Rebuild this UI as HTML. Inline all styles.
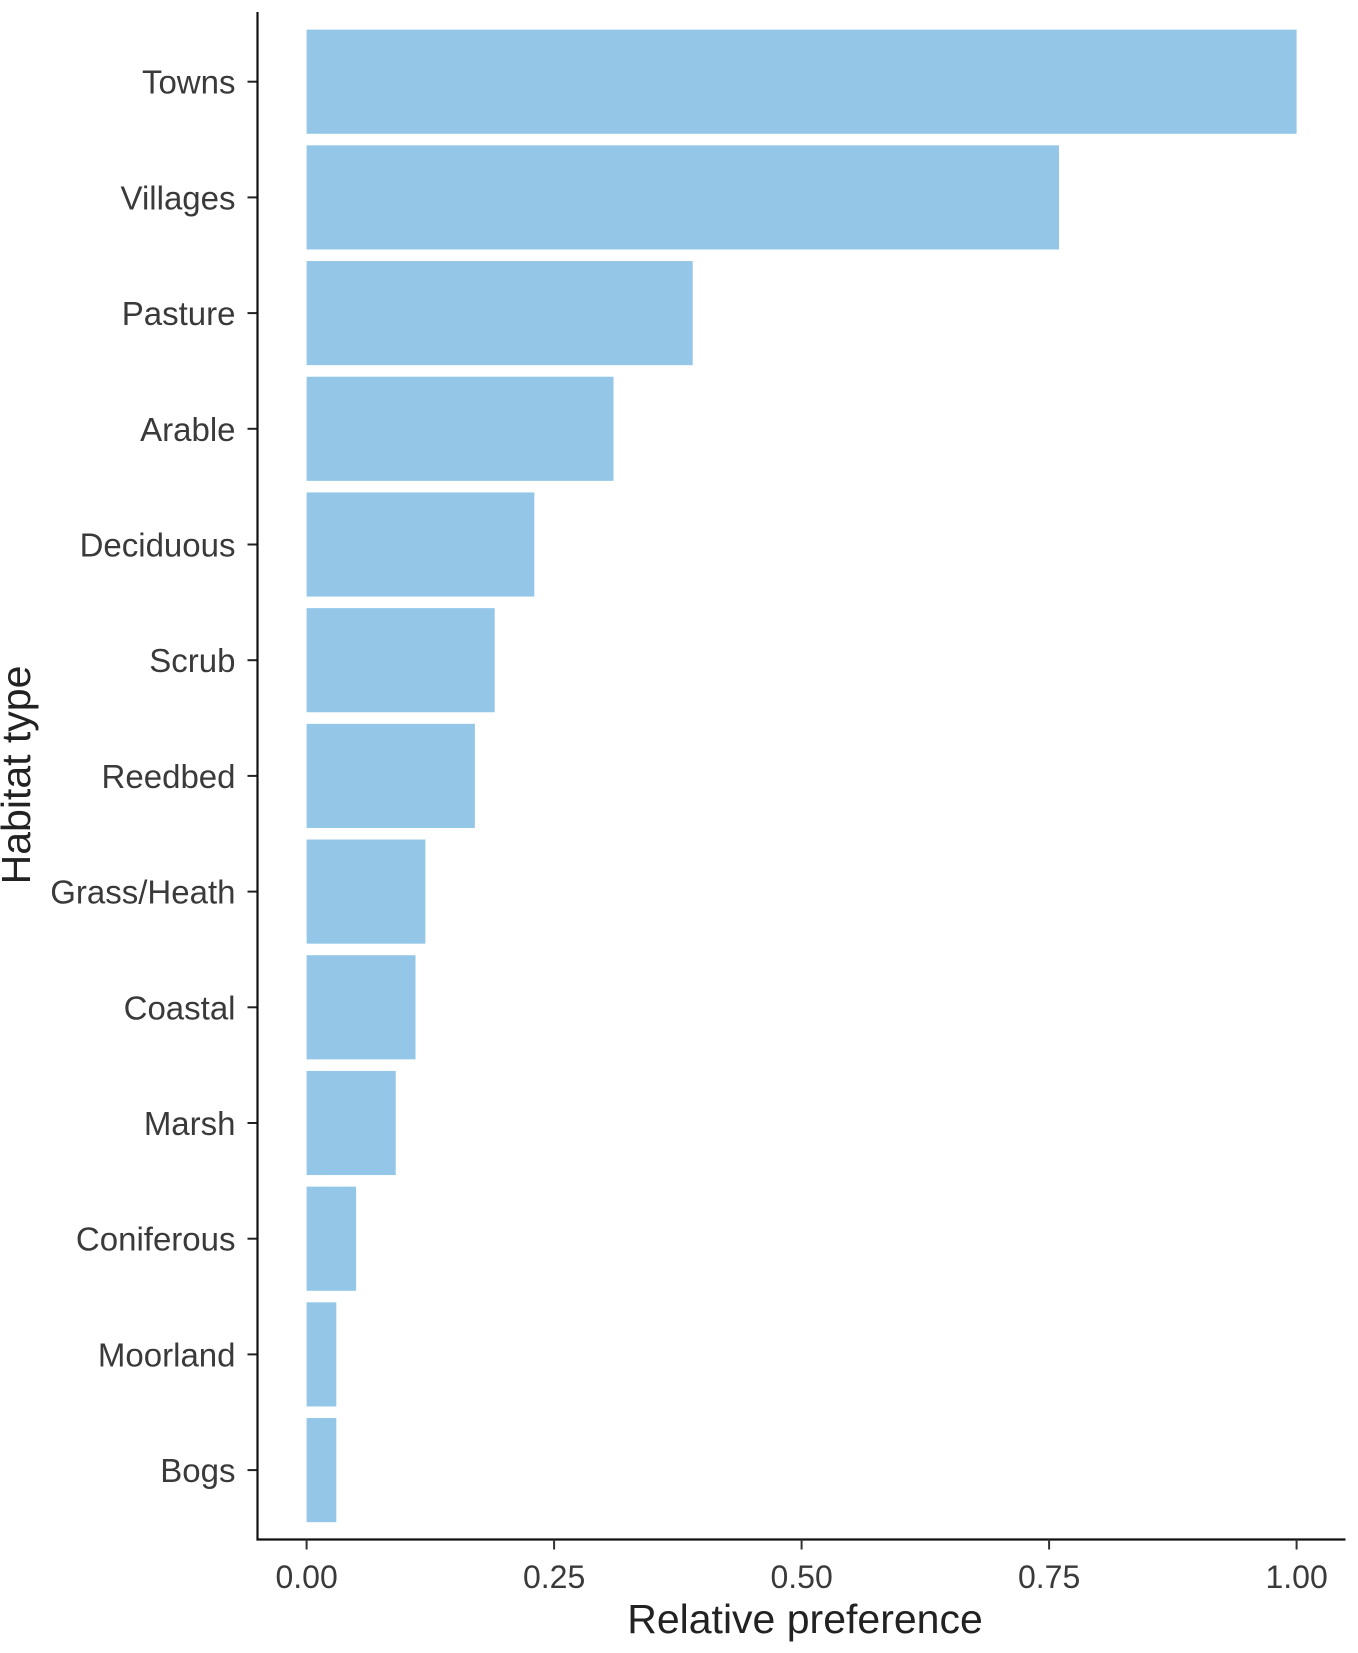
<!DOCTYPE html>
<html><head><meta charset="utf-8"><style>
html,body{margin:0;padding:0;background:#fff;}
svg{display:block;font-family:"Liberation Sans",Arial,sans-serif;}
</style></head><body>
<svg id="chart" width="1358" height="1653" viewBox="0 0 1358 1653" xmlns="http://www.w3.org/2000/svg">
<g id="bars"></g>
<g id="yaxis"></g>
<g id="xaxis"></g>
<text x="805" y="1633" font-size="41" fill="#222" text-anchor="middle">Relative preference</text>
<text transform="translate(30,775) rotate(-90)" font-size="41" fill="#222" text-anchor="middle">Habitat type</text>
</svg>
<script>
const categories = ["Towns","Villages","Pasture","Arable","Deciduous","Scrub","Reedbed","Grass/Heath","Coastal","Marsh","Coniferous","Moorland","Bogs"];
const values = [1.00,0.76,0.39,0.31,0.23,0.19,0.17,0.12,0.11,0.09,0.05,0.03,0.03];
const xTicks = [0,0.25,0.5,0.75,1.0];
const xTickLabels = ["0.00","0.25","0.50","0.75","1.00"];

const NS = "http://www.w3.org/2000/svg";
const X0 = 306.6, X1 = 1296.6;
const xScale = v => X0 + v * (X1 - X0);
const yTop = 81.7, step = 115.7;
const yScale = i => yTop + i * step;
const barH = step * 0.9;
const axisX = 257.5, axisY = 1539.5;

function mk(tag, attrs, parent){ const e=document.createElementNS(NS,tag); for(const k in attrs) e.setAttribute(k,attrs[k]); parent.appendChild(e); return e; }

const bars = document.getElementById('bars');
const yaxis = document.getElementById('yaxis');
const xaxis = document.getElementById('xaxis');

categories.forEach((c,i)=>{
  const r = mk('rect',{x:xScale(0),y:yScale(i)-barH/2,width:xScale(values[i])-xScale(0),height:barH,fill:'#93C6E7'},bars);
  
  
  const t = mk('line',{x1:axisX-10,x2:axisX,y1:yScale(i),y2:yScale(i),stroke:'#222','stroke-width':2},yaxis);
  
  
  const l = mk('text',{x:axisX-22,y:yScale(i)+12,'font-size':33,fill:'#3a3a3a','text-anchor':'end'},yaxis);
  l.textContent = c;
  
  
});
const yl = mk('line',{x1:axisX,x2:axisX,y1:12,y2:axisY+1,stroke:'#111','stroke-width':2.2},yaxis);


const xl = mk('line',{x1:axisX-1,x2:1345.5,y1:axisY,y2:axisY,stroke:'#111','stroke-width':2.2},xaxis);


xTicks.forEach((v,i)=>{
  const t = mk('line',{x1:xScale(v),x2:xScale(v),y1:axisY,y2:axisY+10,stroke:'#333','stroke-width':2},xaxis);
  
  
  const l = mk('text',{x:xScale(v),y:1588,'font-size':32,fill:'#3a3a3a','text-anchor':'middle'},xaxis);
  l.textContent = xTickLabels[i];
  
  
});
</script>
</body></html>
